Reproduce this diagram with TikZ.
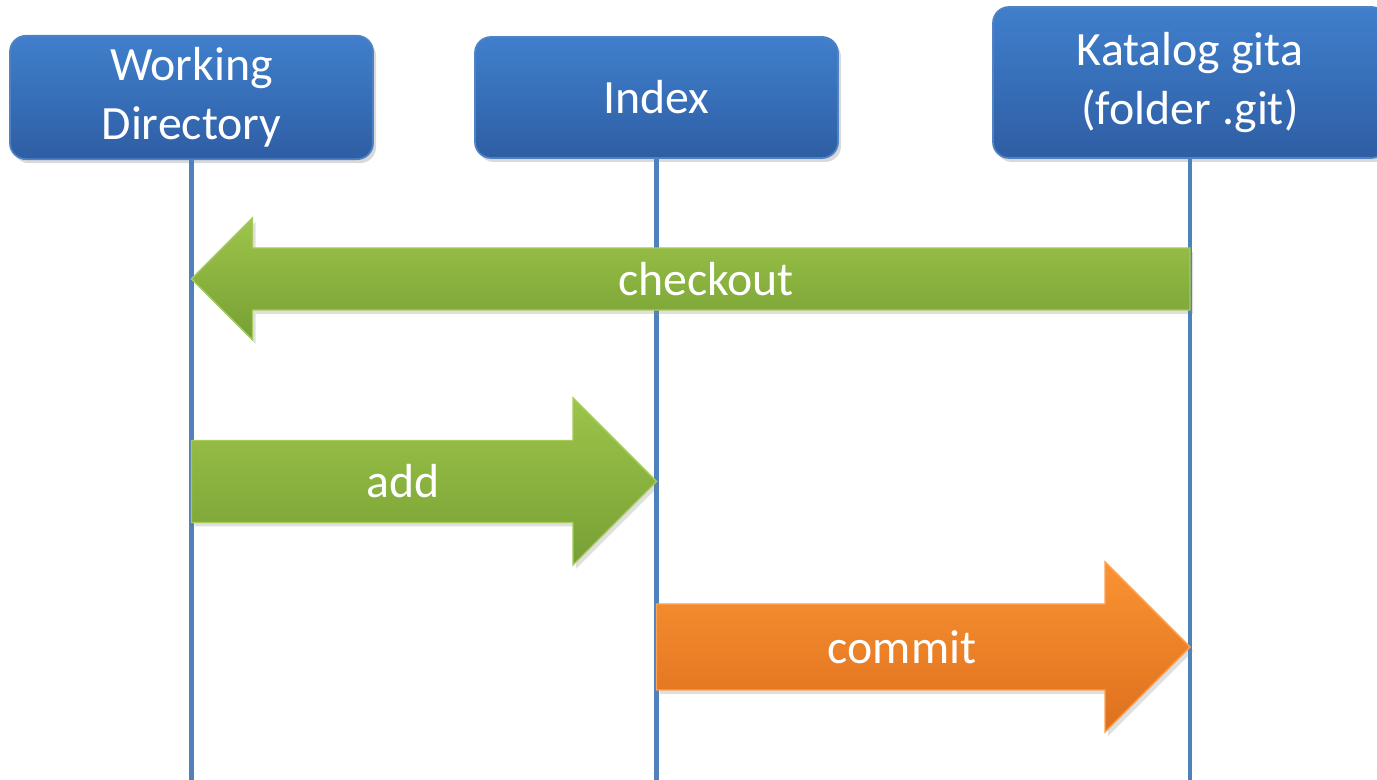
\documentclass[tikz,border=0pt]{standalone}
\usepackage{fontspec}
\setmainfont{Carlito}
\usetikzlibrary{calc,shadows}

\definecolor{boxtop}{RGB}{64,127,204}
\definecolor{boxbot}{RGB}{46,94,164}
\definecolor{boxline}{RGB}{80,130,195}
\definecolor{lifeblue}{RGB}{79,129,189}
\definecolor{greentop}{RGB}{157,196,74}
\definecolor{greenbot}{RGB}{118,160,52}
\definecolor{greenline}{RGB}{166,202,92}
\definecolor{orangetop}{RGB}{250,147,50}
\definecolor{orangebot}{RGB}{222,112,30}
\definecolor{orangeline}{RGB}{250,163,85}

% #1 style, #2 tail, #3 tip, #4 half shaft, #5 head, #6 label
\newcommand{\flowarrow}[6]{%
  \coordinate (hb) at ($(#3)!#5cm!(#2)$);
  \shade[#1] ($(#2)+(0,#4)$) -- ($(hb)+(0,#4)$) -- ($(hb)+(0,#5)$) -- (#3)
    -- ($(hb)+(0,-#5)$) -- ($(hb)+(0,-#4)$) -- ($(#2)+(0,-#4)$) -- cycle;
  \coordinate (hm) at ($(#3)!0.5!(hb)$);
  \node[lbl] (#6) at ($(#2)!0.5!(hm)$) {#6};
}

\begin{document}
\begin{tikzpicture}[
  hdr/.style={
    rectangle,
    rounded corners=0.16cm,
    top color=boxtop,
    bottom color=boxbot,
    draw=boxline,
    line width=0.5pt,
    text=white,
    align=center,
    font=\fontsize{13.6}{16.8}\selectfont,
    drop shadow={opacity=0.3,shadow xshift=0.03cm,shadow yshift=-0.04cm}
  },
  life/.style={lifeblue, line width=1.4pt},
  green/.style={
    top color=greentop,
    bottom color=greenbot,
    draw=greenline,
    line width=0.4pt,
    drop shadow={opacity=0.25,shadow xshift=0.03cm,shadow yshift=-0.04cm}
  },
  orange/.style={
    top color=orangetop,
    bottom color=orangebot,
    draw=orangeline,
    line width=0.4pt,
    drop shadow={opacity=0.25,shadow xshift=0.03cm,shadow yshift=-0.04cm}
  },
  lbl/.style={text=white, font=\fontsize{13.6}{16.8}\selectfont}
]
\useasboundingbox (0,0) rectangle (13.77,7.80);

% headers
\node[hdr, minimum width=3.63cm, minimum height=1.21cm] (wd) at (1.915,6.825) {Working\\Directory};
\node[hdr, minimum width=3.63cm, minimum height=1.21cm] (idx) at (6.565,6.825) {Index};
\node[hdr, minimum width=3.94cm, minimum height=1.51cm] (git) at (11.90,6.975) {Katalog gita\\(folder .git)};

% lifelines
\foreach \n in {wd,idx,git}
  \draw[life] (\n.south) -- (\n.south |- 0,0);

\coordinate (wd-co) at (wd.south |- 0,5.01);
\coordinate (git-co) at (git.south |- 0,5.01);
\coordinate (wd-add) at (wd.south |- 0,2.985);
\coordinate (idx-add) at (idx.south |- 0,2.985);
\coordinate (idx-cm) at (idx.south |- 0,1.33);
\coordinate (git-cm) at (git.south |- 0,1.33);

% arrows
\flowarrow{green}{git-co}{wd-co}{0.31}{0.61}{checkout}
\flowarrow{green}{wd-add}{idx-add}{0.41}{0.835}{add}
\flowarrow{orange}{idx-cm}{git-cm}{0.43}{0.85}{commit}
\end{tikzpicture}
\end{document}
